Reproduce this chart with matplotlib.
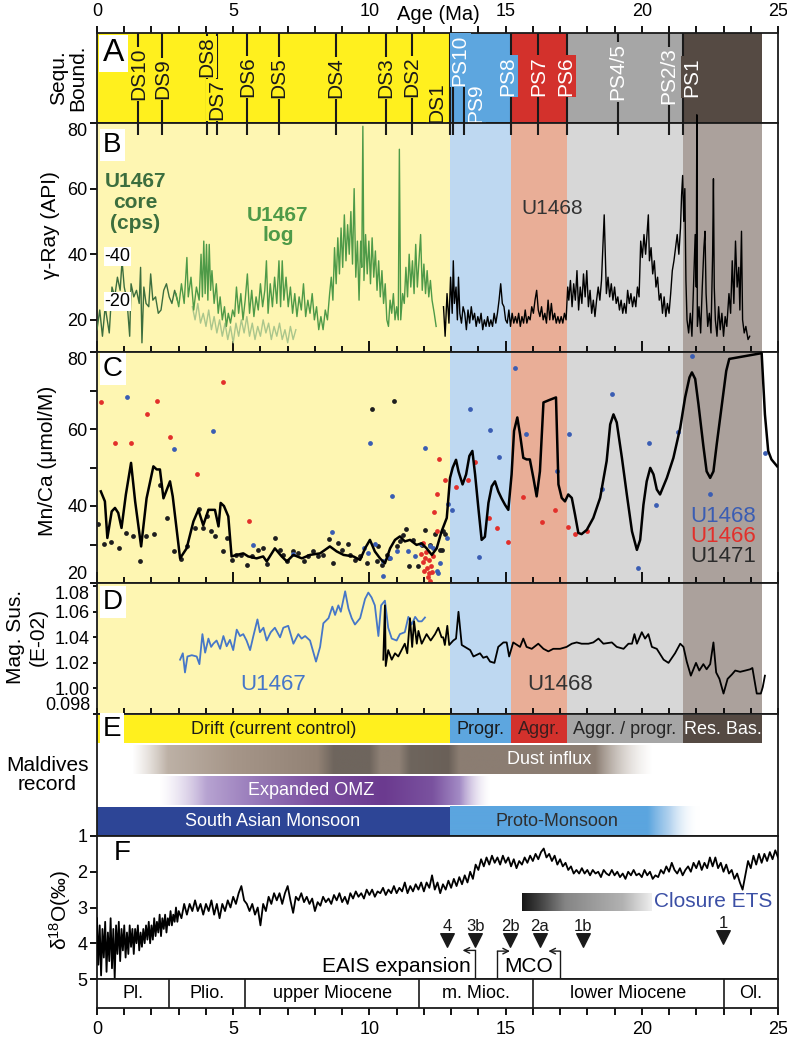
import matplotlib

matplotlib.use("Agg")
import matplotlib.pyplot as plt
import numpy as np
from matplotlib.colors import to_rgba
from matplotlib.patches import Rectangle

plt.rcParams["font.family"] = ["Liberation Sans", "DejaVu Sans"]
plt.rcParams["mathtext.default"] = "regular"

W, H = 787, 1040
XL, XR = 97, 778

# ---------------- data ----------------
band_edges = [0, 12.95, 15.18, 17.24, 21.52, 24.4]
band_strong = ["#FFF01E", "#5DA6DF", "#D3312C", "#A6A6A6", "#554A43"]
band_light = ["#FEF6B2", "#BED8F1", "#E9AE97", "#D7D7D7", "#ABA19C"]

seq_names = ["DS10", "DS9", "DS8", "DS7", "DS6", "DS5", "DS4", "DS3", "DS2", "DS1",
             "PS10", "PS9", "PS8", "PS7", "PS6", "PS4/5", "PS2/3", "PS1"]
seq_age = [1.52, 2.40, 4.03, 4.39, 5.52, 6.69, 8.76, 10.60, 11.55, 12.95,
           13.08, 13.47, 15.18, 16.20, 17.24, 19.13, 21.00, 21.52]
seq_label_age = [1.52, 2.40, 4.03, 4.39, 5.52, 6.69, 8.76, 10.60, 11.55, 12.47,
                 13.33, 13.90, 15.08, 16.20, 17.20, 19.13, 21.00, 21.83]
seq_label_y = [0.544, 0.489, 0.733, 0.256, 0.511, 0.50, 0.50, 0.50, 0.511, 0.222,
               0.70, 0.222, 0.522, 0.522, 0.522, 0.567, 0.522, 0.511]

# B: gamma ray
core_age = [0.0, 0.1, 0.2, 0.3, 0.45, 0.55, 0.65, 0.75, 0.85, 0.92, 1.0, 1.1, 1.2, 1.25, 1.35,
            1.45, 1.55, 1.6, 1.65, 1.72, 1.8, 1.9, 1.97, 2.05, 2.15, 2.25, 2.35, 2.45, 2.55,
            2.65, 2.75, 2.85, 2.95]
core_gr = [17, 23, 15, 24, 16, 30, 27, 33, 29, 38, 30, 26, 15, 31, 27, 29, 25, 36, 13, 30, 25,
           24, 34, 26, 27, 22, 23, 29, 31, 27, 25, 29, 26]

log_age = [2.90, 3.0, 3.1, 3.2, 3.3, 3.35, 3.45, 3.55, 3.65, 3.75, 3.82, 3.87, 3.92, 3.97, 4.02,
           4.07, 4.12, 4.17, 4.22, 4.3, 4.38, 4.45, 4.52, 4.6, 4.68, 4.75, 4.82, 4.9, 4.98, 5.05,
           5.12, 5.2, 5.28, 5.36, 5.44, 5.52, 5.6, 5.68, 5.76, 5.84, 5.92, 6.0, 6.08, 6.16, 6.22,
           6.28, 6.36, 6.44, 6.52, 6.6, 6.68, 6.74, 6.8, 6.86, 6.94, 7.02, 7.1, 7.18, 7.26, 7.34,
           7.42, 7.5, 7.58, 7.66, 7.74, 7.82, 7.9, 7.98, 8.06, 8.14, 8.22, 8.3, 8.38, 8.46, 8.54,
           8.6, 8.66, 8.72, 8.78, 8.84, 8.9, 8.96, 9.02, 9.08, 9.14, 9.2, 9.26, 9.32, 9.38, 9.44,
           9.5, 9.56, 9.62, 9.68, 9.72, 9.76, 9.8, 9.86, 9.92, 9.98, 10.04, 10.1, 10.16, 10.22,
           10.28, 10.34, 10.4, 10.46, 10.52, 10.58, 10.64, 10.7, 10.76, 10.82, 10.88, 10.94, 11.0,
           11.06, 11.1, 11.15, 11.22, 11.28, 11.34, 11.4, 11.46, 11.52, 11.58, 11.64, 11.7, 11.76,
           11.82, 11.88, 11.94, 12.0, 12.06, 12.12, 12.18, 12.24, 12.3, 12.38, 12.45]
log_gr = [28, 24, 31, 25, 39, 27, 33, 23, 30, 26, 40, 27, 44, 28, 43, 26, 43, 29, 35, 25, 31, 22,
          27, 20, 24, 18, 22, 19, 23, 21, 30, 22, 28, 20, 26, 34, 22, 29, 21, 27, 23, 31, 24, 29,
          38, 22, 31, 24, 33, 25, 38, 24, 38, 26, 33, 24, 30, 22, 28, 21, 27, 23, 31, 21, 26, 22,
          28, 20, 24, 17, 21, 17, 23, 20, 28, 33, 26, 42, 31, 45, 34, 48, 36, 52, 38, 49, 40, 53,
          37, 60, 33, 44, 26, 44, 36, 79, 32, 46, 34, 44, 31, 45, 33, 41, 29, 38, 27, 35, 25, 31,
          20, 18, 26, 22, 28, 20, 24, 20, 72, 20, 28, 25, 36, 27, 40, 30, 38, 28, 43, 30, 38, 46,
          29, 37, 28, 35, 27, 32, 26, 22, 18]

pale_age = [3.5, 3.6, 3.7, 3.8, 3.9, 4.0, 4.1, 4.2, 4.3, 4.4, 4.5, 4.6, 4.7, 4.8, 4.9, 5.0, 5.1,
            5.2, 5.3, 5.4, 5.5, 5.6, 5.7, 5.8, 5.9, 6.0, 6.1, 6.2, 6.3, 6.4, 6.5, 6.6, 6.7, 6.8,
            6.9, 7.0, 7.1, 7.2, 7.3]
pale_gr = [24, 20, 25, 19, 22, 18, 23, 17, 21, 16, 20, 15, 19, 14, 18, 13, 19, 15, 20, 16, 21, 15,
           19, 14, 18, 15, 20, 16, 19, 14, 18, 15, 19, 14, 17, 13, 18, 14, 17]

u1468_age = [12.72, 12.78, 12.85, 12.92, 12.98, 13.04, 13.08, 13.12, 13.18, 13.23, 13.27, 13.32,
             13.38, 13.44, 13.5, 13.56, 13.62, 13.68, 13.74, 13.8, 13.86, 13.92, 13.98, 14.04,
             14.1, 14.16, 14.22, 14.28, 14.34, 14.4, 14.46, 14.52, 14.58, 14.64, 14.7, 14.76,
             14.82, 14.88, 14.94, 15.0, 15.06, 15.12, 15.18, 15.24, 15.3, 15.36, 15.42, 15.48,
             15.54, 15.6, 15.66, 15.72, 15.78, 15.84, 15.9, 15.96, 16.02, 16.08, 16.14, 16.2,
             16.26, 16.32, 16.38, 16.44, 16.5, 16.56, 16.62, 16.68, 16.74, 16.8, 16.86, 16.92,
             16.98, 17.04, 17.1, 17.16, 17.22, 17.28, 17.32, 17.38, 17.44, 17.5, 17.56, 17.62,
             17.68, 17.74, 17.8, 17.86, 17.92, 17.98, 18.04, 18.1, 18.16, 18.22, 18.28, 18.34,
             18.4, 18.46, 18.52, 18.58, 18.62, 18.66, 18.7, 18.76, 18.82, 18.88, 18.94, 19.0,
             19.06, 19.12, 19.18, 19.24, 19.3, 19.36, 19.42, 19.48, 19.54, 19.6, 19.66, 19.72,
             19.78, 19.84, 19.9, 19.96, 20.02, 20.08, 20.14, 20.2, 20.24, 20.28, 20.34, 20.4,
             20.46, 20.52, 20.58, 20.64, 20.7, 20.76, 20.82, 20.88, 20.94, 21.0, 21.06, 21.12,
             21.18, 21.24, 21.3, 21.36, 21.42, 21.46, 21.5, 21.54, 21.58, 21.62, 21.66, 21.72,
             21.78, 21.84, 21.9, 21.96, 22.0, 22.02, 22.04, 22.1, 22.16, 22.22, 22.28, 22.32,
             22.36, 22.42, 22.48, 22.54, 22.6, 22.63, 22.66, 22.7, 22.76, 22.82, 22.88, 22.94,
             23.0, 23.06, 23.12, 23.2, 23.26, 23.32, 23.38, 23.44, 23.5, 23.56, 23.6, 23.66,
             23.7, 23.76, 23.82, 23.9, 23.96]
u1468_gr = [24, 15, 28, 19, 33, 22, 38, 25, 30, 20, 33, 22, 19, 24, 22, 17, 23, 19, 24, 20, 22,
            18, 21, 19, 22, 17, 20, 18, 21, 18, 20, 18, 22, 19, 22, 26, 31, 25, 24, 20, 19, 23,
            18, 22, 19, 21, 19, 22, 18, 21, 19, 23, 19, 21, 20, 24, 22, 26, 29, 23, 21, 24, 20,
            22, 19, 26, 20, 25, 20, 22, 19, 21, 19, 21, 19, 22, 20, 30, 26, 32, 24, 31, 26, 35,
            23, 30, 25, 34, 27, 35, 24, 29, 22, 26, 21, 26, 30, 26, 32, 44, 52, 40, 28, 33, 27,
            31, 26, 30, 25, 27, 23, 26, 22, 25, 22, 29, 25, 28, 24, 27, 24, 30, 27, 44, 39, 46,
            40, 47, 52, 38, 42, 34, 38, 30, 33, 26, 28, 22, 27, 21, 25, 22, 28, 35, 38, 42, 46,
            40, 48, 58, 64, 50, 60, 32, 20, 16, 22, 15, 30, 46, 30, 82.5, 18, 24, 16, 30, 42, 47,
            28, 18, 22, 16, 40, 63, 30, 20, 15, 24, 17, 22, 15, 21, 18, 28, 22, 38, 25, 44, 30,
            36, 23, 47, 20, 16, 18, 14, 15]

# C: Mn/Ca
mn_line_age = [0.14, 0.29, 0.38, 0.54, 0.66, 0.78, 0.9, 1.06, 1.25, 1.4, 1.62, 1.82, 2.07, 2.19,
               2.31, 2.44, 2.68, 2.78, 3.05, 3.29, 3.54, 3.72, 3.9, 4.09, 4.33, 4.46, 4.54, 4.66,
               4.82, 4.94, 5.13, 5.37, 5.55, 5.86, 6.1, 6.23, 6.53, 6.78, 6.97, 7.21, 7.52, 7.82,
               8.19, 8.55, 8.8, 9.05, 9.41, 9.66, 9.84, 10.02, 10.2, 10.39, 10.57, 10.76, 10.94,
               11.12, 11.3, 11.49, 11.73, 11.92, 12.1, 12.29, 12.47, 12.65, 12.84, 12.96, 13.06,
               13.18, 13.27, 13.42, 13.55, 13.67, 13.78, 13.88, 14.0, 14.12, 14.24, 14.37, 14.49,
               14.61, 14.73, 14.85, 14.98, 15.1, 15.22, 15.31, 15.43, 15.53, 15.65, 15.77, 15.89,
               16.02, 16.14, 16.26, 16.39, 16.63, 16.85, 16.94, 17.06, 17.18, 17.3, 17.43, 17.55,
               17.67, 17.79, 17.98, 18.22, 18.47, 18.71, 18.84, 18.96, 19.08, 19.27, 19.45, 19.64,
               19.82, 19.94, 20.06, 20.18, 20.31, 20.43, 20.55, 20.67, 20.92, 21.16, 21.41, 21.59,
               21.75, 21.84, 21.96, 22.08, 22.26, 22.38, 22.51, 22.63, 22.75, 22.94, 23.1, 23.21,
               24.4, 24.52, 24.64, 24.76, 24.97]
mn_line_val = [43.8, 41.2, 31.7, 38.6, 39.5, 38.2, 34.3, 43.0, 51.2, 41.2, 29.5, 42.0, 50.3, 49.5,
               49.5, 42.0, 46.4, 42.5, 26.4, 29.0, 36.0, 39.0, 35.0, 39.0, 39.0, 34.7, 40.8, 40.0,
               37.3, 26.9, 27.3, 27.7, 26.9, 26.4, 26.9, 25.6, 29.0, 26.9, 25.6, 27.3, 26.4, 27.3,
               27.7, 29.5, 28.2, 27.3, 26.9, 26.0, 29.0, 31.2, 28.2, 26.4, 25.1, 29.0, 31.2, 32.1,
               30.8, 31.2, 29.9, 30.3, 29.0, 27.3, 29.0, 33.4, 36.9, 47.3, 50.0, 52.0, 49.0, 45.6,
               48.2, 53.0, 54.3, 48.2, 39.5, 31.2, 32.0, 40.8, 45.1, 46.4, 43.8, 42.0, 40.3, 39.0,
               48.2, 59.5, 63.0, 58.6, 52.5, 52.1, 52.1, 47.3, 42.5, 49.0, 66.9, 67.6, 68.2, 45.6,
               42.1, 41.2, 43.0, 42.1, 37.7, 33.0, 32.7, 33.8, 36.9, 42.1, 51.7, 61.2, 63.8, 61.7,
               52.5, 43.0, 33.4, 28.6, 31.2, 40.3, 46.4, 49.9, 48.2, 44.3, 43.0, 47.3, 52.5, 60.3,
               68.2, 73.4, 74.7, 73.0, 66.4, 55.6, 49.0, 47.3, 49.0, 56.0, 66.4, 75.1, 78.2, 79.7,
               63.8, 54.3, 52.1, 50.3]

u1471_age = [0.03, 0.26, 0.53, 0.81, 1.05, 1.32, 1.57, 1.81, 2.1, 2.32, 2.58, 2.83, 3.08, 3.32,
             3.59, 3.76, 3.9, 4.05, 4.17, 4.33, 4.64, 4.79, 4.94, 5.1, 5.29, 5.51, 5.68, 5.9,
             6.08, 6.24, 6.53, 6.7, 6.84, 6.99, 7.21, 7.39, 7.6, 7.76, 7.94, 8.13, 8.31, 8.5,
             8.65, 8.86, 8.98, 9.23, 9.29, 9.47, 9.66, 9.9, 10.11, 10.27, 10.33, 10.45, 10.64,
             10.73, 10.91, 11.0, 11.12, 11.25, 11.34, 11.46, 11.59, 11.79, 11.92, 12.04, 12.22,
             12.41, 12.61, 12.65, 12.72, 12.78]
u1471_mn = [35.3, 30.1, 30.6, 29.0, 33.0, 32.3, 25.8, 32.3, 32.7, 45.4, 36.9, 28.3, 26.3, 29.5,
            34.4, 39.2, 34.3, 37.3, 33.4, 32.3, 28.2, 31.8, 26.0, 27.3, 27.3, 24.7, 26.9, 28.6,
            29.0, 25.0, 31.7, 28.6, 27.3, 25.6, 28.2, 27.7, 25.6, 26.9, 28.3, 26.9, 27.3, 31.5,
            25.3, 30.3, 28.6, 30.1, 27.3, 26.0, 26.9, 25.1, 65.1, 25.6, 29.5, 24.7, 27.3, 26.4,
            67.3, 29.5, 30.8, 32.5, 34.1, 24.5, 31.2, 24.5, 29.9, 33.8, 29.9, 32.7, 28.6, 28.6,
            33.5, 32.8]

u1468_mn_age = [1.11, 2.83, 4.26, 5.73, 7.21, 8.64, 9.82, 9.96, 10.02, 10.2, 10.49, 10.5, 10.76,
                10.82, 11.0, 11.43, 11.68, 11.9, 12.04, 12.22, 12.35, 12.49, 12.53, 12.61, 12.84,
                12.9, 13.02, 13.69, 14.04, 14.43, 14.76, 15.35, 15.74, 16.88, 17.34, 18.55,
                18.92, 19.85, 20.25, 20.53, 21.32, 21.84, 22.51, 24.52]
u1468_mn = [68.3, 54.7, 59.5, 29.9, 27.6, 33.2, 29.0, 27.7, 56.4, 30.1, 25.6, 21.8, 26.4, 42.7,
            28.3, 28.2, 26.9, 30.1, 55.1, 29.5, 29.0, 23.1, 22.5, 25.1, 31.7, 40.5, 39.0, 65.1,
            26.7, 59.7, 52.8, 75.8, 58.8, 49.0, 58.8, 44.5, 69.0, 24.0, 56.4, 40.3, 59.3, 79.0,
            43.2, 53.7]

u1466_age = [0.14, 0.65, 1.25, 1.85, 2.19, 2.69, 3.66, 4.64, 5.57, 11.9, 11.95, 11.98, 12.02,
             12.05, 12.08, 12.1, 12.14, 12.17, 12.2, 12.23, 12.27, 12.3, 12.33, 12.38, 12.47,
             12.49, 12.54, 12.77, 13.17, 13.63, 13.88, 14.4, 14.7, 15.1, 15.65, 16.32, 16.81,
             17.3, 17.55, 17.98]
u1466_mn = [66.9, 56.3, 56.3, 63.8, 67.3, 58.0, 48.4, 72.3, 36.1, 27.5, 25.5, 30.3, 23.0, 26.5,
            28.0, 24.0, 21.5, 26.0, 22.5, 20.5, 24.5, 22.8, 27.0, 38.4, 33.4, 43.1, 52.3, 46.7,
            45.0, 46.7, 51.5, 36.9, 34.3, 30.6, 42.3, 35.8, 38.9, 34.6, 32.8, 33.6]

# D: magnetic susceptibility
ms67_age = [3.05, 3.15, 3.23, 3.32, 3.48, 3.66, 3.76, 3.87, 3.97, 4.09, 4.19, 4.27, 4.39, 4.52,
            4.64, 4.76, 4.88, 5.0, 5.13, 5.25, 5.37, 5.49, 5.62, 5.74, 5.89, 5.98, 6.11, 6.23,
            6.38, 6.53, 6.72, 6.84, 7.02, 7.21, 7.39, 7.51, 7.64, 7.82, 8.04, 8.19, 8.31, 8.5,
            8.64, 8.74, 8.86, 8.95, 9.11, 9.23, 9.35, 9.47, 9.66, 9.84, 9.96, 10.08, 10.2, 10.33,
            10.43, 10.57, 10.69, 10.82, 11.0, 11.12, 11.3, 11.43, 11.55, 11.68, 11.8, 11.92, 12.04]
ms67_val = [1.0225, 1.0275, 1.0125, 1.025, 1.026, 1.025, 1.019, 1.0425, 1.028, 1.039, 1.0325,
            1.035, 1.0375, 1.031, 1.041, 1.033, 1.038, 1.030, 1.046, 1.041, 1.0425, 1.0375,
            1.030, 1.041, 1.054, 1.044, 1.0475, 1.0375, 1.044, 1.0475, 1.040, 1.0475, 1.049,
            1.035, 1.0425, 1.039, 1.041, 1.0375, 1.021, 1.0325, 1.051, 1.055, 1.064, 1.0575,
            1.065, 1.060, 1.076, 1.0625, 1.055, 1.050, 1.055, 1.070, 1.075, 1.0712, 1.065, 1.041,
            1.065, 1.0687, 1.0475, 1.039, 1.0375, 1.0425, 1.044, 1.056, 1.050, 1.056, 1.0525,
            1.0525, 1.0555]

ms68_age = [10.51, 10.57, 10.6, 10.69, 10.82, 10.94, 11.06, 11.18, 11.3, 11.39, 11.49, 11.57,
            11.64, 11.74, 11.8, 11.92, 12.1, 12.25, 12.41, 12.53, 12.65, 12.71, 12.77, 12.86,
            12.93, 13.08, 13.18, 13.27, 13.39, 13.7, 13.82, 14.06, 14.18, 14.31, 14.43, 14.59,
            14.73, 14.92, 15.04, 15.13, 15.28, 15.53, 15.65, 15.77, 15.96, 16.2, 16.39, 16.57,
            16.75, 17.0, 17.24, 17.43, 17.61, 17.79, 18.04, 18.22, 18.41, 18.59, 18.9, 19.08,
            19.33, 19.51, 19.64, 19.73, 19.82, 20.0, 20.12, 20.24, 20.37, 20.55, 20.8, 20.98,
            21.22, 21.41, 21.53, 21.65, 21.8, 21.99, 22.11, 22.26, 22.38, 22.51, 22.63, 22.73,
            22.85, 23.0, 23.15, 23.31, 23.43, 23.61, 23.8, 23.98, 24.06, 24.22, 24.37, 24.44,
            24.52]
ms68_val = [1.0225, 1.065, 1.0175, 1.030, 1.0225, 1.0275, 1.025, 1.030, 1.035, 1.0275, 1.055,
            1.0325, 1.0525, 1.035, 1.045, 1.035, 1.0425, 1.0375, 1.0425, 1.0475, 1.040, 1.040,
            1.034, 1.049, 1.034, 1.0375, 1.039, 1.060, 1.034, 1.030, 1.025, 1.0275, 1.024, 1.025,
            1.021, 1.020, 1.0325, 1.036, 1.036, 1.025, 1.036, 1.0325, 1.039, 1.0325, 1.031,
            1.035, 1.031, 1.029, 1.031, 1.031, 1.0325, 1.035, 1.036, 1.035, 1.035, 1.036, 1.039,
            1.035, 1.036, 1.0325, 1.031, 1.035, 1.035, 1.0425, 1.035, 1.044, 1.039, 1.0425,
            1.0325, 1.031, 1.0225, 1.020, 1.0275, 1.035, 1.0325, 1.021, 1.010, 1.020, 1.014,
            1.019, 1.015, 1.019, 1.036, 1.0125, 1.0075, 0.996, 1.0075, 1.011, 1.014, 1.013, 1.014,
            1.015, 1.016, 0.996, 0.996, 1.001, 1.010]

# E: interpretation rows
e_row1_labels = ["Drift (current control)", "Progr.", "Aggr.", "Aggr. / progr.", "Res. Bas."]
e_row1_text_colors = ["#1A1A1A", "#1A1A1A", "#3A1E1E", "#262626", "white"]

# F: d18O
d18o_age = [0.00, 0.05, 0.10, 0.15, 0.20, 0.25, 0.30, 0.35, 0.40, 0.45,
            0.50, 0.55, 0.60, 0.65, 0.70, 0.75, 0.80, 0.85, 0.90, 0.95,
            1.00, 1.05, 1.10, 1.15, 1.20, 1.25, 1.30, 1.35, 1.40, 1.45,
            1.50, 1.55, 1.60, 1.65, 1.70, 1.75, 1.80, 1.85, 1.90, 1.95,
            2.00, 2.05, 2.10, 2.15, 2.20, 2.25, 2.30, 2.35, 2.40, 2.45,
            2.50, 2.55, 2.60, 2.65, 2.70, 2.75, 2.80, 2.85, 2.90, 2.95,
            3.0, 3.1, 3.2, 3.3, 3.4, 3.5, 3.6, 3.7, 3.8, 3.9,
            4.0, 4.1, 4.2, 4.3, 4.4, 4.5, 4.6, 4.7, 4.8, 4.9,
            5.0, 5.1, 5.2, 5.3, 5.4, 5.5, 5.6, 5.7, 5.8, 5.9,
            6.0, 6.1, 6.2, 6.3, 6.4, 6.5, 6.6, 6.7, 6.8, 6.9,
            7.0, 7.1, 7.2, 7.3, 7.4, 7.5, 7.6, 7.7, 7.8, 7.9,
            8.0, 8.1, 8.2, 8.3, 8.4, 8.5, 8.6, 8.7, 8.8, 8.9,
            9.0, 9.1, 9.2, 9.3, 9.4, 9.5, 9.6, 9.7, 9.8, 9.9,
            10.0, 10.1, 10.2, 10.3, 10.4, 10.5, 10.6, 10.7, 10.8, 10.9,
            11.0, 11.1, 11.2, 11.3, 11.4, 11.5, 11.6, 11.7, 11.8, 11.9,
            12.0, 12.1, 12.2, 12.3, 12.4, 12.5, 12.6, 12.7, 12.8, 12.9,
            13.0, 13.1, 13.2, 13.3, 13.4, 13.5, 13.6, 13.7, 13.8, 13.9,
            14.0, 14.1, 14.2, 14.3, 14.4, 14.5, 14.6, 14.7, 14.8, 14.9,
            15.0, 15.1, 15.2, 15.3, 15.4, 15.5, 15.6, 15.7, 15.8, 15.9,
            16.0, 16.1, 16.2, 16.3, 16.4, 16.5, 16.6, 16.7, 16.8, 16.9,
            17.0, 17.1, 17.2, 17.3, 17.4, 17.5, 17.6, 17.7, 17.8, 17.9,
            18.0, 18.1, 18.2, 18.3, 18.4, 18.5, 18.6, 18.7, 18.8, 18.9,
            19.0, 19.1, 19.2, 19.3, 19.4, 19.5, 19.6, 19.7, 19.8, 19.9,
            20.0, 20.1, 20.2, 20.3, 20.4, 20.5, 20.6, 20.7, 20.8, 20.9,
            21.0, 21.1, 21.2, 21.3, 21.4, 21.5, 21.6, 21.7, 21.8, 21.9,
            22.0, 22.1, 22.2, 22.3, 22.4, 22.5, 22.6, 22.7, 22.8, 22.9,
            23.0, 23.1, 23.2, 23.3, 23.4, 23.5, 23.6, 23.7, 23.8, 23.9,
            24.0, 24.1, 24.2, 24.3, 24.4, 24.5, 24.6, 24.7, 24.8, 24.9, 25.0]
d18o_val = [3.3, 4.6, 3.5, 4.9, 3.6, 4.4, 3.4, 4.8, 3.7, 4.5,
            3.3, 4.7, 3.6, 5.0, 3.5, 4.3, 3.4, 4.5, 3.6, 4.2,
            3.5, 4.4, 3.7, 4.3, 3.5, 4.1, 3.6, 4.3, 3.6, 4.0,
            3.5, 4.2, 3.7, 4.1, 3.6, 4.0, 3.5, 3.9, 3.4, 4.0,
            3.5, 3.9, 3.3, 3.8, 3.4, 3.7, 3.2, 3.8, 3.3, 3.6,
            3.2, 3.7, 3.3, 3.5, 3.1, 3.5, 3.2, 3.4, 3.0, 3.4,
            3.1, 3.3, 2.9, 3.2, 2.9, 3.1, 2.8, 3.1, 2.9, 3.2,
            2.9, 3.1, 2.8, 3.2, 2.9, 3.3, 2.9, 3.1, 2.8, 3.0,
            2.7, 2.9, 2.6, 2.4, 2.8, 2.9, 3.1, 2.9, 3.2, 3.0,
            3.5, 2.9, 3.1, 2.7, 2.9, 2.6, 2.8, 2.6, 2.9, 2.6,
            2.4, 2.8, 3.15, 2.7, 2.8, 2.6, 2.85, 2.7, 2.9, 2.75,
            3.1, 2.85, 2.95, 2.7, 2.85, 2.75, 2.9, 2.65, 2.8, 2.6,
            2.85, 2.7, 2.9, 2.6, 2.75, 2.55, 2.7, 2.6, 2.75, 2.5,
            2.65, 2.5, 2.7, 2.55, 2.6, 2.45, 2.65, 2.5, 2.6, 2.4,
            2.6, 2.45, 2.55, 2.3, 2.6, 2.4, 2.55, 2.35, 2.5, 2.3,
            2.55, 2.3, 2.45, 2.1, 2.5, 2.3, 2.6, 2.35, 2.5, 2.25,
            2.45, 2.2, 2.4, 2.15, 2.35, 2.1, 2.3, 2.0, 2.2, 1.8,
            1.95, 1.65, 1.85, 1.6, 1.8, 1.55, 1.75, 1.6, 1.8, 1.55,
            1.75, 1.6, 1.85, 1.65, 1.9, 1.7, 1.8, 1.6, 1.75, 1.55,
            1.7, 1.5, 1.65, 1.45, 1.35, 1.6, 1.5, 1.7, 1.55, 1.8,
            1.65, 1.85, 1.75, 1.95, 1.85, 2.05, 1.95, 2.05, 1.9, 2.05,
            1.95, 2.1, 1.95, 2.05, 2.0, 2.15, 1.95, 2.05, 2.1, 1.95,
            2.1, 2.0, 2.15, 2.05, 2.2, 2.0, 2.1, 1.95, 2.1, 2.05,
            2.15, 1.95, 2.1, 2.0, 2.2, 2.1, 2.15, 1.95, 2.05, 1.85,
            2.0, 1.75, 1.95, 2.05, 1.9, 2.1, 1.95, 1.85, 2.0, 1.75,
            1.9, 1.7, 1.95, 1.75, 1.9, 1.6, 1.85, 1.6, 1.9, 1.75,
            2.0, 1.8, 2.05, 1.95, 2.2, 2.05, 2.3, 2.5, 2.1, 1.7,
            1.9, 1.55, 1.8, 1.5, 1.75, 1.5, 1.7, 1.45, 1.65, 1.4, 1.6]

event_age = [12.84, 13.88, 15.16, 16.26, 17.83, 22.99]
event_labels = ["4", "3b", "2b", "2a", "1b", "1"]
event_y = [3.9, 3.9, 3.9, 3.9, 3.9, 3.82]

epoch_edges = [0, 2.65, 5.45, 11.82, 16.0, 23.02, 25]
epoch_names = ["Pl.", "Plio.", "upper Miocene", "m. Mioc.", "lower Miocene", "Ol."]


# ---------------- helpers ----------------
def rect(top, bottom):
    return [XL / W, 1 - bottom / H, (XR - XL) / W, (bottom - top) / H]


def band_color(age, colors):
    for k in range(len(colors)):
        if band_edges[k] <= age < band_edges[k + 1]:
            return colors[k]
    return "white"


def light_bands(ax):
    for k in range(len(band_light)):
        ax.axvspan(band_edges[k], band_edges[k + 1], color=band_light[k], lw=0, zorder=0)


def bottom_ticks(ax, major_len=8, minor_len=4.5):
    ax.set_xticks(range(0, 26, 5))
    ax.set_xticks(range(0, 26), minor=True)
    ax.tick_params(axis="x", which="major", direction="in", length=major_len, width=1.3,
                   labelbottom=False)
    ax.tick_params(axis="x", which="minor", direction="in", length=minor_len, width=1.3)


def panel_letter(ax, letter, frac_top, size=20):
    ax.text(0.22, frac_top, letter, transform=ax.get_xaxis_transform(), fontsize=size,
            va="top", ha="left", zorder=10,
            bbox=dict(boxstyle="square,pad=0.12", fc="white", ec="none"))


def gradient(ax, stops, y0, y1, n=500):
    ages = [s[0] for s in stops]
    cols = np.array([to_rgba(s[1], s[2]) for s in stops])
    xs = np.linspace(ages[0], ages[-1], n)
    img = np.zeros((1, n, 4))
    for c in range(4):
        img[0, :, c] = np.interp(xs, ages, cols[:, c])
    ax.imshow(img, extent=[ages[0], ages[-1], y1, y0], aspect="auto",
              interpolation="bilinear", zorder=1)


def frame(ax):
    for s in ax.spines.values():
        s.set_linewidth(1.3)
        s.set_color("#1A1A1A")


fig = plt.figure(figsize=(W / 100, H / 100), dpi=100)

# ---------------- A ----------------
axA = fig.add_axes(rect(33, 123))
for k in range(len(band_strong)):
    axA.axvspan(band_edges[k], band_edges[k + 1], color=band_strong[k], lw=0, zorder=0)
for name, x, lx, ly in zip(seq_names, seq_age, seq_label_age, seq_label_y):
    axA.plot([x, x], [0, 1], color="#1A1A1A", lw=1.5, zorder=2)
    txt_col = "white" if name.startswith("PS") else "#1A1A1A"
    axA.text(lx, ly, name, rotation=90, ha="center", va="center", fontsize=15, color=txt_col,
             zorder=3, bbox=dict(boxstyle="square,pad=0.05", fc=band_color(lx, band_strong),
                                 ec="none"))
axA.set_xlim(0, 25)
axA.set_ylim(0, 1)
axA.set_yticks([])
axA.xaxis.tick_top()
axA.set_xticks(range(0, 26, 5))
axA.set_xticks(range(0, 26), minor=True)
axA.tick_params(axis="x", which="both", direction="out", length=5, width=1.3, labelsize=13,
                pad=4)
axA.text(12.52, 1.21, "Age (Ma)", transform=axA.get_xaxis_transform(), ha="center",
         va="center", fontsize=14.5)
panel_letter(axA, "A", 0.94, size=23)
frame(axA)

# ---------------- B ----------------
axB = fig.add_axes(rect(123, 352))
light_bands(axB)
axB.vlines(seq_age, 1 - 12 / 229, 1, transform=axB.get_xaxis_transform(), color="#1A1A1A",
           lw=1.5, zorder=2)
axB.plot(pale_age, pale_gr, color="#AAC68C", lw=1.0, zorder=3)
axB.plot(core_age, core_gr, color="#3C6E3E", lw=1.0, zorder=4)
axB.plot(log_age, log_gr, color="#4E9A48", lw=1.0, zorder=4)
axB.plot(u1468_age, u1468_gr, color="black", lw=1.0, zorder=4, clip_on=False)
axB.set_xlim(0, 25)
axB.set_ylim(10.2, 80)
axB.set_yticks([20, 40, 60, 80])
axB.tick_params(axis="y", direction="out", length=5, width=1.3, labelsize=13, pad=2)
axB.get_yticklabels()[-1].set_va("top")
bottom_ticks(axB)
axB.text(0.75, 39.3, "-40", fontsize=13, ha="center", va="center", zorder=5,
         bbox=dict(boxstyle="square,pad=0.05", fc="white", ec="none"))
axB.text(0.75, 25.5, "-20", fontsize=13, ha="center", va="center", zorder=5,
         bbox=dict(boxstyle="square,pad=0.05", fc="white", ec="none"))
axB.text(1.4, 55.7, "U1467\ncore\n(cps)", color="#3C6E3E", fontsize=15, fontweight="bold",
         ha="center", va="center", linespacing=1.15, zorder=6)
axB.text(6.64, 48.7, "U1467\nlog", color="#4E9A48", fontsize=15, fontweight="bold",
         ha="center", va="center", linespacing=1.05, zorder=6)
axB.text(16.7, 53.9, "U1468", color="#333333", fontsize=15, ha="center", va="center", zorder=6)
panel_letter(axB, "B", 1 - 9 / 229)
frame(axB)

# ---------------- C ----------------
axC = fig.add_axes(rect(352, 583))
light_bands(axC)
axC.scatter(u1471_age, u1471_mn, s=12, color="#1E1E1E", lw=0, zorder=3)
axC.scatter(u1468_mn_age, u1468_mn, s=12, color="#3A5DB3", lw=0, zorder=3)
axC.scatter(u1466_age, u1466_mn, s=12, color="#E2302B", lw=0, zorder=3)
axC.plot(mn_line_age, mn_line_val, color="black", lw=1.8, zorder=4)
axC.set_xlim(0, 25)
axC.set_ylim(20, 80)
axC.set_yticks([20, 40, 60, 80])
axC.set_yticks([30, 50, 70], minor=True)
axC.tick_params(axis="y", which="both", direction="out", length=5, width=1.3, labelsize=13,
                pad=2)
labs = axC.get_yticklabels()
labs[0].set_va("bottom")
labs[-1].set_va("top")
bottom_ticks(axC)
for txt, col, yy in zip(["U1468", "U1466", "U1471"], ["#3A5DB3", "#E2302B", "#2B2B2B"],
                        [517, 537, 557]):
    axC.text(23.0, (583 - yy) / 231, txt, transform=axC.get_xaxis_transform(), color=col,
             fontsize=16, ha="center", va="center", zorder=6)
panel_letter(axC, "C", 1 - 4 / 231)
frame(axC)

# ---------------- D ----------------
axD = fig.add_axes(rect(583, 714))
light_bands(axD)
axD.plot(ms67_age, ms67_val, color="#4677C8", lw=1.3, zorder=3)
axD.plot(ms68_age, ms68_val, color="black", lw=1.3, zorder=4)
axD.set_xlim(0, 25)
axD.set_ylim(0.98, 1.0825)
axD.set_yticks([0.98, 1.00, 1.02, 1.04, 1.06, 1.08],
               ["0.098", "1.00", "1.02", "1.04", "1.06", "1.08"])
axD.tick_params(axis="y", direction="out", length=3, width=1.3, labelsize=13, pad=2)
labs = axD.get_yticklabels()
labs[0].set_va("bottom")
labs[-1].set_va("top")
bottom_ticks(axD, major_len=4.5, minor_len=4.5)
axD.text(6.45, (714 - 685) / 131, "U1467", transform=axD.get_xaxis_transform(),
         color="#4677C8", fontsize=16, ha="center", va="center")
axD.text(17.0, (714 - 685) / 131, "U1468", transform=axD.get_xaxis_transform(),
         color="#333333", fontsize=16, ha="center", va="center")
panel_letter(axD, "D", 1 - 6 / 131)
frame(axD)

# ---------------- E ----------------
axE = fig.add_axes(rect(714, 836))
for k in range(len(band_strong)):
    axE.add_patch(Rectangle((band_edges[k], 1), band_edges[k + 1] - band_edges[k], 28,
                            color=band_strong[k], lw=0, zorder=1))
    axE.text((band_edges[k] + band_edges[k + 1]) / 2, 15, e_row1_labels[k], fontsize=13,
             color=e_row1_text_colors[k], ha="center", va="center", zorder=3)
gradient(axE, [(1.3, "#D2C8BF", 0.0), (2.6, "#BDB1A6", 1), (5.0, "#A69689", 1),
               (8.1, "#928275", 1), (8.7, "#6E655D", 1), (10.0, "#6E655D", 1),
               (10.4, "#8E8075", 1), (11.1, "#8E8075", 1), (11.5, "#6E655D", 1),
               (12.9, "#6A6058", 1), (13.3, "#8B7D72", 1), (18.3, "#8B7D72", 1),
               (20.4, "#D8D0C8", 0.0)], 31, 60)
gradient(axE, [(2.3, "#D9CFE8", 0.0), (4.0, "#B7A3D1", 1), (6.0, "#9475B7", 1),
               (8.0, "#7B4F9F", 1), (10.5, "#6B3A8F", 1), (12.3, "#7A529F", 1),
               (13.3, "#A38BC5", 1), (14.4, "#E2DAEE", 0.0)], 62, 91)
axE.add_patch(Rectangle((0, 93), 12.95, 29, color="#2D4596", lw=0, zorder=1))
gradient(axE, [(12.95, "#5BA5DF", 1), (20.2, "#5BA5DF", 1), (21.0, "#A6CBEC", 0.85),
               (22.1, "#FFFFFF", 0.0)], 93, 122)
axE.text(16.6, 45.5, "Dust influx", color="white", fontsize=13, ha="center", va="center",
         zorder=3)
axE.text(7.86, 76.5, "Expanded OMZ", color="white", fontsize=13, ha="center", va="center",
         zorder=3)
axE.text(6.45, 107.5, "South Asian Monsoon", color="white", fontsize=13, ha="center",
         va="center", zorder=3)
axE.text(16.9, 107.5, "Proto-Monsoon", color="#2E2E2E", fontsize=13, ha="center",
         va="center", zorder=3)
axE.text(0.2, 2, "E", fontsize=20, ha="left", va="top", zorder=5,
         bbox=dict(boxstyle="square,pad=0.1", fc="white", ec="none"))
axE.set_xlim(0, 25)
axE.set_ylim(122, 0)
axE.set_xticks([])
axE.set_yticks([])
frame(axE)

# ---------------- F ----------------
axF = fig.add_axes(rect(836, 979))
axF.plot(d18o_age, d18o_val, color="black", lw=1.3, zorder=3)
gradient(axF, [(15.62, "#161616", 1), (16.4, "#4A4A4A", 1), (17.2, "#858585", 1),
               (19.3, "#B2B2B2", 1), (20.36, "#EEEEEE", 1)], 2.59, 3.09)
axF.text(20.45, 2.84, "Closure ETS", color="#3B4FA5", fontsize=15, ha="left", va="center")
axF.scatter(event_age, event_y, marker="v", s=95, color="#1A1A1A", zorder=4)
for x, y, lab in zip(event_age, event_y, event_labels):
    axF.text(x, y - 0.36, lab, fontsize=12, ha="center", va="center", color="#1A1A1A")
axF.text(13.72, 4.65, "EAIS expansion", fontsize=15, ha="right", va="center")
axF.text(15.86, 4.65, "MCO", fontsize=15, ha="center", va="center")
arrow = dict(arrowstyle="->", lw=1.0, color="#1A1A1A", shrinkA=0, shrinkB=0,
             mutation_scale=10)
axF.plot([13.88, 13.88], [5.0, 4.2], color="#1A1A1A", lw=1.0)
axF.annotate("", xy=(13.42, 4.2), xytext=(13.88, 4.2), arrowprops=arrow)
axF.plot([14.7, 14.7], [5.0, 4.22], color="#1A1A1A", lw=1.0)
axF.annotate("", xy=(15.16, 4.22), xytext=(14.7, 4.22), arrowprops=arrow)
axF.plot([17.0, 17.0], [5.0, 4.22], color="#1A1A1A", lw=1.0)
axF.annotate("", xy=(16.57, 4.22), xytext=(17.0, 4.22), arrowprops=arrow)
axF.text(0.6, 1.1, "F", fontsize=20, ha="left", va="top")
axF.set_xlim(0, 25)
axF.set_ylim(5, 1)
axF.set_xticks([])
axF.set_yticks([1, 2, 3, 4, 5])
axF.tick_params(axis="y", direction="out", length=5, width=1.3, labelsize=13, pad=2)
frame(axF)

# ---------------- epochs ----------------
axT = fig.add_axes(rect(979, 1008))
for k in range(1, len(epoch_edges) - 1):
    axT.plot([epoch_edges[k]] * 2, [0, 1], color="#1A1A1A", lw=1.2)
for k, name in enumerate(epoch_names):
    axT.text((epoch_edges[k] + epoch_edges[k + 1]) / 2, 0.5, name, fontsize=13, ha="center",
             va="center")
axT.set_xlim(0, 25)
axT.set_ylim(0, 1)
axT.set_yticks([])
axT.set_xticks(range(0, 26, 5))
axT.set_xticks(range(0, 26), minor=True)
axT.tick_params(axis="x", which="both", direction="out", length=5, width=1.3, labelsize=13,
                pad=4)
frame(axT)

# ---------------- left labels ----------------
def ftext(px, py, s, **kw):
    fig.text(px / W, 1 - py / H, s, ha="center", va="center", fontsize=15, **kw)


ftext(68, 78, "Sequ.\nBound.", rotation=90, linespacing=1.0)
ftext(50, 225, "γ-Ray (API)", rotation=90)
ftext(48, 461, "Mn/Ca (μmol/M)", rotation=90)
ftext(27, 637, "Mag. Sus.\n(E-02)", rotation=90, linespacing=1.25)
ftext(47, 775, "Maldives\nrecord", linespacing=1.05)
ftext(60, 910, "δ$^{18}$O(‰)", rotation=90)

fig.savefig("out.png", dpi=100)
